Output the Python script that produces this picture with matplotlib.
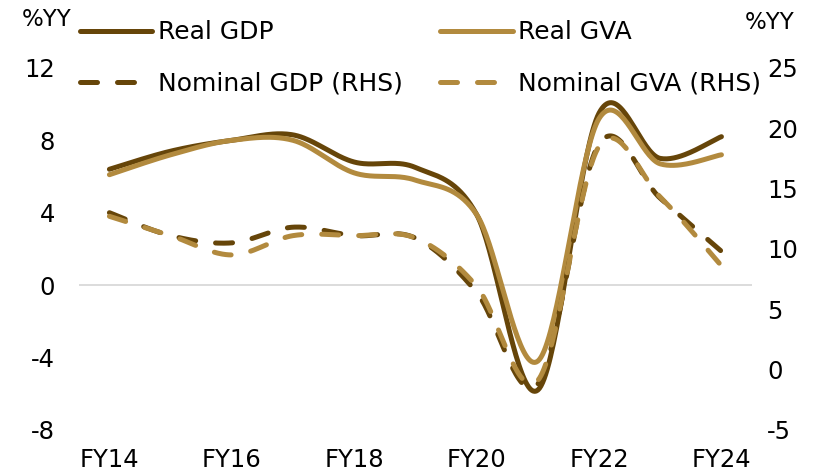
import numpy as np
import matplotlib
matplotlib.use("Agg")
import matplotlib.pyplot as plt
from matplotlib.lines import Line2D

# data (% YoY)
years = ['FY14', 'FY15', 'FY16', 'FY17', 'FY18', 'FY19',
         'FY20', 'FY21', 'FY22', 'FY23', 'FY24']
real_gdp = [6.4, 7.4, 8.0, 8.3, 6.8, 6.5, 3.9, -5.8, 9.5, 7.0, 8.2]
real_gva = [6.1, 7.2, 8.0, 8.0, 6.2, 5.8, 3.9, -4.2, 9.2, 6.7, 7.2]
nominal_gdp = [13.0, 11.1, 10.5, 11.8, 11.1, 10.9, 6.4, -1.2, 18.7, 14.2, 9.8]
nominal_gva = [12.7, 11.1, 9.5, 11.1, 11.1, 10.9, 6.9, -0.9, 18.5, 14.3, 8.6]

dark = '#664509'
light = '#b28a3e'
plt.rcParams['font.family'] = 'DejaVu Sans'
plt.rcParams['axes.unicode_minus'] = False


def smooth(y, n=40):
    # excel style smoothed line (catmull-rom as cubic bezier)
    x = np.arange(len(y), dtype=float)
    y = np.asarray(y, dtype=float)
    px = np.r_[x[0], x, x[-1]]
    py = np.r_[y[0], y, y[-1]]
    t = np.linspace(0, 1, n)[:, None]
    out = []
    for i in range(1, len(px) - 2):
        p0 = np.array([px[i - 1], py[i - 1]])
        p1 = np.array([px[i], py[i]])
        p2 = np.array([px[i + 1], py[i + 1]])
        p3 = np.array([px[i + 2], py[i + 2]])
        c1 = p1 + (p2 - p0) / 6
        c2 = p2 - (p3 - p1) / 6
        seg = ((1 - t) ** 3) * p1 + 3 * ((1 - t) ** 2) * t * c1 \
            + 3 * (1 - t) * t ** 2 * c2 + t ** 3 * p2
        out.append(seg if i == 1 else seg[1:])
    out = np.vstack(out)
    return out[:, 0], out[:, 1]


fig, ax = plt.subplots(figsize=(8.21, 4.75), dpi=100)
fig.subplots_adjust(left=0.096, right=0.916, top=0.857, bottom=0.095)
ax2 = ax.twinx()

lw = 3.6
dash = (3.4, 4.0)

ax.axhline(0, color='#d9d9d9', lw=1.3, zorder=1)

xs, ys = smooth(real_gdp)
ax.plot(xs, ys, color=dark, lw=lw, solid_capstyle='round', zorder=3)
xs, ys = smooth(real_gva)
ax.plot(xs, ys, color=light, lw=lw, solid_capstyle='round', zorder=4)
xs, ys = smooth(nominal_gdp)
ax2.plot(xs, ys, color=dark, lw=lw, dashes=dash, dash_capstyle='round')
xs, ys = smooth(nominal_gva)
ax2.plot(xs, ys, color=light, lw=lw, dashes=dash, dash_capstyle='round')

ax.set_xlim(-0.5, 10.5)
ax.set_ylim(-8, 12)
ax.set_yticks([-8, -4, 0, 4, 8, 12])
ax.set_xticks(range(0, 11, 2))
ax.set_xticklabels(years[::2])
ax2.set_ylim(-5, 25)
ax2.set_yticks([-5, 0, 5, 10, 15, 20, 25])

for a in (ax, ax2):
    for s in a.spines.values():
        s.set_visible(False)
ax.tick_params(axis='y', length=0, labelsize=17.5, pad=17)
ax.tick_params(axis='x', length=0, labelsize=17.5, pad=13)
ax2.tick_params(axis='y', length=0, labelsize=17.5, pad=11)

fig.text(0.026, 0.958, '%YY', fontsize=16.5, va='center', ha='left')
fig.text(0.907, 0.952, '%YY', fontsize=16.5, va='center', ha='left')

handles = [
    Line2D([], [], color=dark, lw=lw, solid_capstyle='round'),
    Line2D([], [], color=dark, lw=lw, dashes=dash, dash_capstyle='round'),
    Line2D([], [], color=light, lw=lw, solid_capstyle='round'),
    Line2D([], [], color=light, lw=lw, dashes=dash, dash_capstyle='round'),
]
labels = ['Real GDP', 'Nominal GDP (RHS)', 'Real GVA', 'Nominal GVA (RHS)']
fig.legend(handles, labels, ncol=2, loc='upper left',
           bbox_to_anchor=(0.0974, 0.957), frameon=False, fontsize=18,
           borderpad=0, borderaxespad=0, handlelength=2.9,
           handletextpad=0.21, columnspacing=1.5, labelspacing=1.1)

fig.savefig('out.png', dpi=100)
